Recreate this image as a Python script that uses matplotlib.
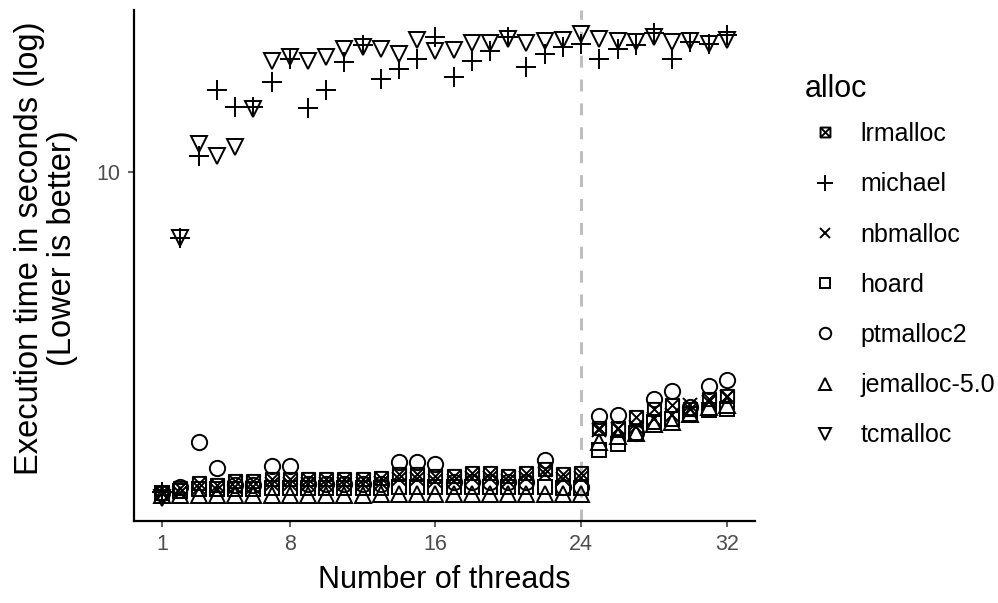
import matplotlib
matplotlib.use("Agg")
import matplotlib.pyplot as plt
from matplotlib.path import Path
import numpy as np

plt.rcParams['font.family'] = ['Liberation Sans', 'DejaVu Sans']
plt.rcParams['lines.scale_dashes'] = False

threads = list(range(1, 33))

lrmalloc = [1.54, 1.585, 1.63, 1.61, 1.65, 1.65, 1.67, 1.67, 1.67, 1.67, 1.67, 1.67, 1.68, 1.72, 1.72, 1.70,
            1.70, 1.73, 1.73, 1.70, 1.73, 1.77, 1.72, 1.73, 2.25, 2.25, 2.40, 2.51, 2.57, 2.51, 2.66, 2.71]
michael = [1.55, 6.80, 11.03, 16.12, 14.62, 14.62, 16.98, 19.39, 14.54, 16.12, 19.05, 21.01, 17.28, 18.30, 19.39, 22.0,
           17.4, 19.16, 20.30, 22.0, 18.51, 19.95, 20.77, 21.13, 19.39, 20.54, 21.01, 22.5, 19.39, 21.38, 21.13, 22.26]
nbmalloc = [1.54, 1.54, 1.585, 1.566, 1.60, 1.60, 1.62, 1.62, 1.62, 1.62, 1.62, 1.62, 1.63, 1.67, 1.67, 1.65,
            1.65, 1.68, 1.68, 1.65, 1.68, 1.72, 1.67, 1.68, 2.23, 2.24, 2.26, 2.37, 2.43, 2.57, 2.62, 2.69]
hoard = [1.54, 1.557, 1.575, 1.575, 1.575, 1.575, 1.585, 1.585, 1.585, 1.585, 1.585, 1.585, 1.585, 1.60, 1.60, 1.60,
         1.60, 1.60, 1.60, 1.60, 1.60, 1.60, 1.585, 1.585, 1.98, 2.05, 2.18, 2.33, 2.37, 2.44, 2.50, 2.51]
ptmalloc2 = [1.54, 1.60, 2.08, 1.78, 1.61, 1.61, 1.80, 1.80, 1.62, 1.62, 1.62, 1.62, 1.62, 1.85, 1.85, 1.83,
             1.64, 1.64, 1.64, 1.64, 1.64, 1.87, 1.60, 1.60, 2.41, 2.43, 2.18, 2.66, 2.80, 2.54, 2.87, 2.97]
jemalloc = [1.52, 1.52, 1.52, 1.52, 1.52, 1.52, 1.52, 1.52, 1.52, 1.52, 1.52, 1.52, 1.53, 1.53, 1.53, 1.53,
            1.53, 1.53, 1.53, 1.53, 1.53, 1.53, 1.53, 1.53, 2.07, 2.15, 2.18, 2.31, 2.33, 2.44, 2.54, 2.58]
tcmalloc = [1.50, 6.80, 11.82, 11.03, 11.61, 14.45, 19.16, 19.61, 19.16, 19.61, 20.54, 20.77, 20.54, 19.95, 21.63, 20.30,
            20.42, 21.26, 21.26, 21.75, 21.26, 21.5, 21.63, 22.4, 21.75, 21.5, 21.38, 22.0, 21.38, 21.5, 21.13, 21.63]

series_names = ["lrmalloc", "michael", "nbmalloc", "hoard", "ptmalloc2", "jemalloc-5.0", "tcmalloc"]
series_values = [lrmalloc, michael, nbmalloc, hoard, ptmalloc2, jemalloc, tcmalloc]
x_ticks = [1, 8, 16, 24, 32]

# square with cross marker
boxx = Path([(-1, -1), (1, -1), (1, 1), (-1, 1), (-1, -1), (-1, -1), (1, 1), (-1, 1), (1, -1)],
            [Path.MOVETO, Path.LINETO, Path.LINETO, Path.LINETO, Path.CLOSEPOLY,
             Path.MOVETO, Path.LINETO, Path.MOVETO, Path.LINETO])

styles = {
    "lrmalloc": dict(marker=boxx, ms=9.5),
    "michael": dict(marker="+", ms=14.5),
    "nbmalloc": dict(marker="x", ms=10),
    "hoard": dict(marker="s", ms=10.5),
    "ptmalloc2": dict(marker="o", ms=11),
    "jemalloc-5.0": dict(marker="^", ms=11.5),
    "tcmalloc": dict(marker="v", ms=11.5),
}

fig = plt.figure(figsize=(9.98, 6.03), dpi=100)
ax = fig.add_axes([0.1343, 0.1363, 0.6222, 0.847])

ax.axvline(24, color="#BEBEBE", lw=2.2, dashes=(8.6, 8.6), zorder=1)

handles = []
for name, vals in zip(series_names, series_values):
    st = styles[name]
    h, = ax.plot(threads, vals, ls="none", marker=st["marker"], ms=st["ms"],
                 mfc="none", mec="black", mew=1.4, zorder=3, label=name)
    handles.append(h)

ax.set_yscale("log")
allv = np.concatenate([np.array(v) for v in series_values])
lo, hi = np.log10(allv.min()), np.log10(allv.max())
pad = 0.05 * (hi - lo)
ax.set_ylim(10 ** (lo - pad), 10 ** (hi + pad))
ax.set_xlim(1 - 0.05 * 31, 32 + 0.05 * 31)

ax.set_yticks([10])
ax.set_yticklabels(["10"])
ax.yaxis.set_minor_locator(matplotlib.ticker.NullLocator())
ax.set_xticks(x_ticks)
ax.set_xticklabels([str(t) for t in x_ticks])

for s in ["top", "right"]:
    ax.spines[s].set_visible(False)
for s in ["left", "bottom"]:
    ax.spines[s].set_linewidth(1.6)
    ax.spines[s].set_color("black")

ax.tick_params(axis="both", which="major", length=4.5, width=1.1, color="#333333",
               labelcolor="#4D4D4D", labelsize=15.5, pad=5)

ax.set_xlabel("Number of threads", fontsize=22, color="black", labelpad=7)
fig.text(0.046, 0.589, "Execution time in seconds (log)\n(Lower is better)", fontsize=23.5,
         rotation=90, ha="center", va="center", multialignment="center", linespacing=1.05)

fig.text(0.806, 1 - 89 / 603, "alloc", fontsize=22, ha="left", va="center")
leg = fig.legend(handles=handles, labels=series_names,
                 loc="upper left", bbox_to_anchor=(0.803, 1 - 122 / 603), frameon=False,
                 fontsize=18, labelspacing=1.05, handlelength=1.9,
                 handletextpad=0.45, borderaxespad=0, borderpad=0, markerscale=0.75)

fig.savefig("out.png", dpi=100)
